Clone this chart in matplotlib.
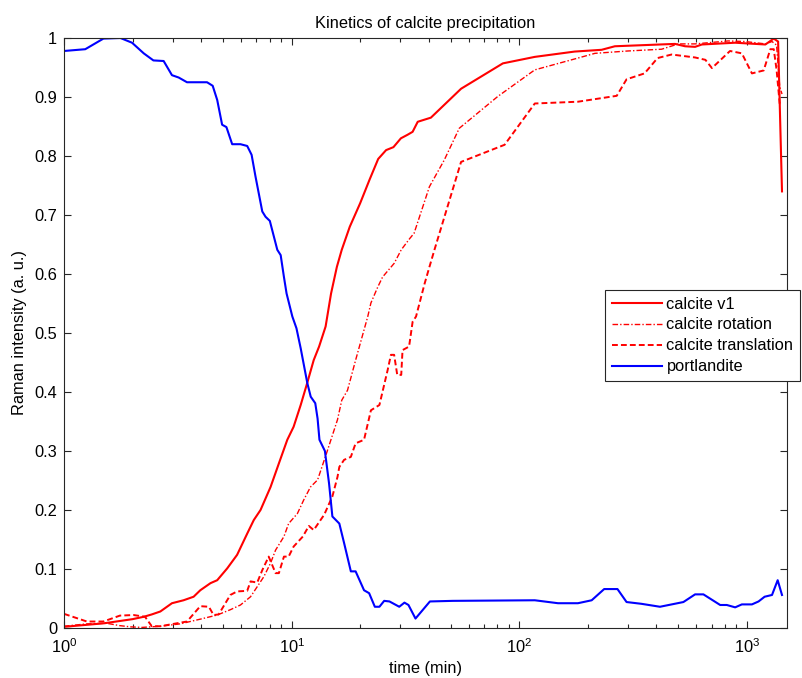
import matplotlib
matplotlib.use("Agg")
import matplotlib.pyplot as plt
from matplotlib.ticker import LogLocator, NullFormatter, FixedLocator

plt.rcParams['font.family'] = ['Liberation Sans', 'DejaVu Sans']
plt.rcParams['mathtext.fontset'] = 'custom'
plt.rcParams['mathtext.rm'] = 'Liberation Sans'
plt.rcParams['mathtext.it'] = 'Liberation Sans:italic'
FS = 11.8
plt.rcParams['font.size'] = FS

# time (min) and normalised Raman intensity of each band
t_v1 = [1.0, 1.5, 2.0, 2.24, 2.43, 2.65, 2.98, 3.35, 3.71, 3.97, 4.40, 4.71, 5.21, 5.76,
        6.38, 6.82, 7.30, 8.08, 8.79, 9.57, 10.2, 10.96, 11.7, 12.5, 13.2, 14.1, 14.9,
        15.8, 16.6, 18.0, 20.0, 22.0, 24.0, 26.0, 28.0, 30.2, 32.3, 34.0, 35.8, 40.9,
        55.5, 84.7, 117, 175, 230, 263, 483, 535, 592, 634, 888, 1205, 1312, 1371, 1426]
v_v1 = [0.002, 0.008, 0.015, 0.019, 0.023, 0.028, 0.042, 0.047, 0.053, 0.064, 0.076,
        0.081, 0.101, 0.124, 0.160, 0.183, 0.200, 0.239, 0.279, 0.319, 0.341, 0.378,
        0.415, 0.454, 0.477, 0.511, 0.567, 0.612, 0.641, 0.68, 0.72, 0.76, 0.795, 0.81,
        0.815, 0.830, 0.836, 0.841, 0.858, 0.865, 0.914, 0.957, 0.968, 0.977, 0.980,
        0.986, 0.990, 0.986, 0.985, 0.989, 0.992, 0.989, 0.999, 0.994, 0.740]

t_rot = [1.0, 1.26, 1.54, 1.76, 1.95, 2.2, 2.65, 3.24, 3.97, 4.71, 5.38, 5.96, 6.6, 7.06,
         7.55, 8.08, 8.5, 9.25, 9.7, 10.6, 11.3, 12.1, 13.0, 14.2, 15.9, 16.6, 17.6, 19.1,
         21.6, 22.3, 23.9, 25.1, 28.2, 30.3, 33.0, 34.5, 40.3, 46.8, 54.5, 80.5, 117, 181,
         215, 300, 422, 500, 592, 828, 982, 1205, 1289, 1350, 1393, 1426]
v_rot = [0.003, 0.007, 0.008, 0.004, 0.002, 0.001, 0.003, 0.007, 0.015, 0.022, 0.031,
         0.039, 0.053, 0.070, 0.087, 0.110, 0.132, 0.155, 0.177, 0.194, 0.217, 0.239,
         0.251, 0.295, 0.353, 0.386, 0.403, 0.454, 0.528, 0.551, 0.578, 0.595, 0.618,
         0.641, 0.660, 0.669, 0.748, 0.793, 0.847, 0.901, 0.946, 0.966, 0.974, 0.978,
         0.981, 0.990, 0.990, 0.995, 0.994, 0.990, 0.994, 0.988, 0.918, 0.905]

t_tr = [1.0, 1.26, 1.49, 1.76, 2.02, 2.27, 2.43, 2.65, 3.03, 3.47, 3.97, 4.33, 4.54, 4.78,
        5.38, 5.76, 6.38, 6.6, 7.06, 7.43, 7.93, 8.5, 8.79, 9.25, 9.7, 10.2, 11.2, 11.9,
        12.5, 13.9, 15.1, 15.9, 16.2, 17.0, 18.2, 19.1, 20.8, 22.3, 24.3, 26.4, 27.3,
        28.2, 29.1, 30.3, 30.7, 32.8, 34.0, 35.2, 38.4, 40.3, 42.4, 55.5, 86.2, 117, 181,
        268, 296, 355, 405, 467, 592, 657, 702, 843, 950, 1052, 1185, 1267, 1312, 1350,
        1393, 1426]
v_tr = [0.024, 0.011, 0.011, 0.021, 0.022, 0.019, 0.003, 0.003, 0.007, 0.011, 0.037,
        0.036, 0.022, 0.023, 0.056, 0.062, 0.063, 0.079, 0.077, 0.098, 0.121, 0.093,
        0.093, 0.121, 0.121, 0.138, 0.155, 0.173, 0.166, 0.192, 0.223, 0.256, 0.273,
        0.285, 0.290, 0.313, 0.319, 0.369, 0.378, 0.437, 0.463, 0.463, 0.429, 0.429,
        0.471, 0.477, 0.519, 0.528, 0.584, 0.612, 0.641, 0.790, 0.819, 0.889, 0.892,
        0.902, 0.930, 0.940, 0.966, 0.972, 0.967, 0.963, 0.949, 0.978, 0.974, 0.940,
        0.945, 0.981, 0.981, 0.946, 0.889, 0.890]

t_port = [1.0, 1.24, 1.49, 1.77, 1.99, 2.24, 2.47, 2.74, 2.98, 3.19, 3.47, 4.25, 4.5,
          4.71, 4.95, 5.17, 5.48, 5.96, 6.38, 6.67, 6.94, 7.43, 7.68, 8.02, 8.65, 8.95,
          9.25, 9.5, 10.07, 10.5, 10.96, 11.25, 11.72, 12.13, 12.7, 13.0, 13.25, 14.0,
          14.6, 15.1, 16.2, 17.0, 18.2, 19.1, 20.8, 21.9, 23.2, 24.3, 25.5, 26.9, 29.7,
          31.3, 32.6, 35.0, 40.5, 51, 117, 148, 181, 208, 236, 270, 296, 344, 415, 526,
          592, 644, 763, 816, 888, 950, 1052, 1125, 1196, 1289, 1365, 1426]
v_port = [0.978, 0.981, 0.999, 1.0, 0.992, 0.974, 0.962, 0.961, 0.937, 0.933, 0.925,
          0.925, 0.919, 0.895, 0.853, 0.849, 0.820, 0.820, 0.817, 0.802, 0.765, 0.706,
          0.697, 0.690, 0.641, 0.632, 0.595, 0.567, 0.528, 0.508, 0.474, 0.451, 0.415,
          0.392, 0.381, 0.355, 0.319, 0.300, 0.245, 0.189, 0.177, 0.144, 0.096, 0.096,
          0.064, 0.059, 0.036, 0.036, 0.046, 0.045, 0.036, 0.043, 0.039, 0.016, 0.045,
          0.046, 0.047, 0.042, 0.042, 0.047, 0.066, 0.066, 0.044, 0.041, 0.036, 0.044,
          0.057, 0.057, 0.039, 0.039, 0.035, 0.040, 0.040, 0.045, 0.053, 0.056, 0.081,
          0.056]

labels = ['calcite v1', 'calcite rotation', 'calcite translation', 'portlandite']
y_ticks = [0, 0.1, 0.2, 0.3, 0.4, 0.5, 0.6, 0.7, 0.8, 0.9, 1]
y_ticklabels = ['0', '0.1', '0.2', '0.3', '0.4', '0.5', '0.6', '0.7', '0.8', '0.9', '1']

W, H = 802, 678
fig = plt.figure(figsize=(W / 100, H / 100), dpi=100)
ax = fig.add_axes([64 / W, 1 - 628 / H, (787 - 64) / W, 590 / H])

red = '#ff0000'
blue = '#0000ff'
ax.plot(t_v1, v_v1, color=red, lw=1.5, ls='-', label=labels[0])
ax.plot(t_rot, v_rot, color=red, lw=1.0, dashes=(4, 1.5, 1, 1.5), label=labels[1])
ax.plot(t_tr, v_tr, color=red, lw=1.4, dashes=(3, 1.6), label=labels[2])
ax.plot(t_port, v_port, color=blue, lw=1.5, ls='-', label=labels[3])

ax.set_xscale('log')
ax.set_xlim(1, 1500)
ax.set_ylim(0, 1)
ax.xaxis.set_major_locator(LogLocator(base=10, numticks=10))
ax.xaxis.set_minor_locator(LogLocator(base=10, subs=range(2, 10), numticks=20))
ax.xaxis.set_minor_formatter(NullFormatter())
ax.yaxis.set_major_locator(FixedLocator(y_ticks))
ax.set_yticklabels(y_ticklabels)

ax.tick_params(which='both', direction='in', top=True, right=True, colors='#262626',
               labelcolor='black', width=0.8)
ax.tick_params(which='major', length=5)
ax.tick_params(which='minor', length=2.6)
ax.tick_params(axis='x', which='major', pad=7)
ax.tick_params(axis='y', which='major', pad=5)
for s in ax.spines.values():
    s.set_color('#262626')
    s.set_linewidth(0.8)

ax.set_title('Kinetics of calcite precipitation', fontsize=FS, pad=7)
ax.set_xlabel('time (min)', fontsize=FS, labelpad=3)
ax.set_ylabel('Raman intensity (a. u.)', fontsize=FS, labelpad=5)

leg = ax.legend(loc='upper left', bbox_to_anchor=(605 / W, 1 - 290 / H),
                bbox_transform=fig.transFigure, borderaxespad=0, fancybox=False,
                framealpha=1, edgecolor='#262626', fontsize=FS, handlelength=3.05,
                handletextpad=0.3, labelspacing=0.36, borderpad=0.4)
leg.get_frame().set_linewidth(0.8)

fig.savefig('out.png', dpi=100)
